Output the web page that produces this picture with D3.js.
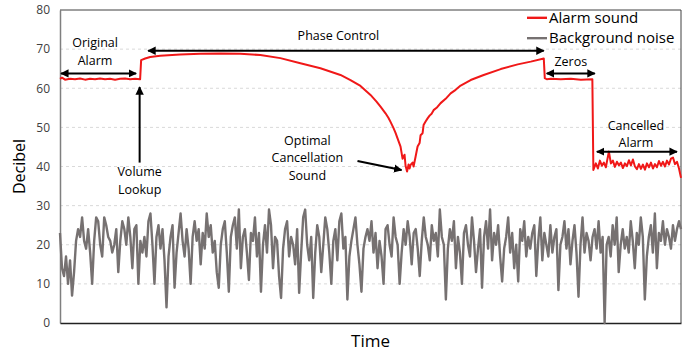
<!DOCTYPE html>
<html>
<head>
<meta charset="utf-8">
<script src="https://cdn.jsdelivr.net/npm/d3@7"></script>
<style>
    body { margin: 0; background: #fff; }
    svg { display: block; font-family: "Open Sans", "Noto Sans", sans-serif; }
</style>
</head>
<body>
<div id="app"></div>
<script>
// ----- Data -----

// alarm sound: time (samples) and level (dB)
const alarmTime = [
    0, 2, 5, 10, 15, 20, 25, 30, 35, 40, 45, 50, 55, 60, 65, 70, 75, 80,
    81, 85, 90, 100, 120, 140, 160, 180, 200, 220, 240, 260, 280, 290, 300, 310,
    316, 320, 325, 328, 330, 333, 335, 338, 340, 342, 344, 345, 346.5, 348, 349, 350,
    352, 353, 355, 357, 359, 360, 362, 363, 365, 367, 369, 371, 373, 376, 380, 385,
    390, 395, 400, 410, 423, 440, 457, 470, 483,
    484, 486, 490, 500, 510, 520, 531.5,
    532.5, 535, 537, 539, 541, 543, 545, 546, 548, 550, 552, 554, 556, 558, 560, 562,
    564, 566, 568, 570, 572, 574, 576, 578, 580, 582, 584, 586, 588, 590, 592, 594,
    596, 598, 600, 602, 604, 606, 608, 610, 612, 614, 616, 618, 620
];
const alarmDb = [
    62.4, 62.7, 62.2, 62.4, 62.3, 62.5, 62.2, 62.4, 62.3, 62.5, 62.3, 62.4, 62.2, 62.4, 62.5, 62.3, 62.4, 62.3,
    67.2, 67.6, 68.0, 68.3, 68.6, 68.8, 68.9, 68.8, 68.5, 67.7, 66.4, 65.1, 63.4, 62.1, 60.6, 58.3,
    56.6, 55.3, 53.6, 52.4, 51.4, 49.8, 48.6, 46.5, 45.1, 42.0, 43.0, 40.2, 38.7, 40.5, 39.5, 40.4,
    41.0, 40.0, 42.5, 45.1, 46.0, 48.0, 48.5, 50.6, 51.5, 52.3, 53.0, 53.5, 54.4, 55.0, 56.2, 57.3,
    58.7, 59.6, 60.7, 62.1, 63.4, 64.9, 66.1, 66.8, 67.6,
    62.6, 62.3, 62.4, 62.3, 62.4, 62.2, 62.3,
    39.1, 40.8, 39.5, 41.5, 40.2, 41.0, 39.8, 41.2, 43.8, 40.8, 41.5, 39.9, 41.2, 40.3, 41.0, 39.6,
    40.8, 40.1, 41.6, 40.3, 41.8, 40.0, 39.3, 40.6, 39.4, 40.5, 39.2, 40.8, 39.8, 41.0, 39.5, 40.6,
    39.8, 41.4, 40.2, 41.2, 40.0, 41.5, 40.5, 42.0, 42.3, 40.6, 41.2, 39.5, 37.1
];

// background noise (dB), evenly spaced over the same time span
const noiseDb = [
    23, 14, 12, 17, 10, 16, 7, 13, 21, 24, 22, 27, 21, 19, 24, 18, 10, 21, 27, 26, 20, 17, 27, 25, 22, 21, 18, 20, 24, 13, 21,
    26, 24, 20, 27, 22, 14, 24, 25, 10, 21, 18, 22, 17, 26, 28, 20, 10, 22, 25, 19, 24, 16, 4, 17, 22, 25, 9, 18, 23, 28, 21,
    17, 24, 19, 10, 22, 26, 21, 24, 15, 23, 19, 28, 22, 25, 18, 21, 13, 9, 20, 24, 26, 18, 8, 22, 25, 27, 19, 29, 14, 22, 24,
    18, 11, 23, 21, 27, 17, 23, 8, 20, 25, 18, 29, 25, 14, 22, 21, 12, 6.4, 19, 24, 26, 17, 22, 20, 15, 24, 7.7, 18, 27, 29, 20,
    16, 22, 6.4, 18, 25, 22, 13, 20, 27, 24, 18, 10, 21, 24, 16, 26, 28, 19, 22, 6, 17, 21, 24, 27, 20, 15, 8, 19, 22, 24, 21,
    26, 18, 23, 14, 21, 17, 10, 24, 25, 20, 17, 27, 22, 20, 10, 18, 24, 20, 26, 22, 15, 23, 24, 19, 12, 21, 27, 22, 20, 16, 25,
    21, 23, 17, 29, 22, 20, 6, 19, 24, 21, 26, 14, 22, 18, 10, 23, 25, 20, 17, 27, 21, 13, 19, 24, 9, 22, 26, 19, 29, 16, 23,
    20, 25, 17, 10.6, 19, 22, 27, 18, 23, 14, 20, 10.6, 24, 21, 26, 17, 22, 19, 23, 25, 12, 21, 27, 16, 23, 20, 17, 25, 18, 22, 24,
    8.4, 20, 22, 26, 19, 24, 15, 21, 25, 18, 6.7, 20, 27, 18, 23, 21, 16, 22, 24, 19, 26, 18, 22, 0, 20, 22, 17, 25, 20, 27, 13,
    20, 24, 19, 22, 18, 26, 21, 14, 23, 20, 27, 22, 6, 17, 22, 25, 18, 28, 14, 23, 21, 26, 20, 24, 22, 19, 25, 21, 24, 26, 24
];

const yTicks = [0, 10, 20, 30, 40, 50, 60, 70, 80];
const timeSpan = [0, 620];

// annotations: double arrows [t0, t1, dB] with label centres
const spans = [
    { t0: 0, t1: 77, db: 63.8, label: ["Original", "Alarm"], lt: 35, ldb: [71.6, 67.0] },
    { t0: 87, t1: 484, db: 69.6, label: ["Phase Control"], lt: 278, ldb: [73.4] },
    { t0: 485, t1: 535, db: 63.8, label: ["Zeros"], lt: 510, ldb: [66.7] },
    { t0: 535, t1: 617, db: 43.8, label: ["Cancelled", "Alarm"], lt: 575, ldb: [50.5, 46.0] }
];

// ----- Layout -----

const W = 697, H = 351;
const M = { left: 60, right: 16, top: 10, bottom: 28 };

const svg = d3.select("#app").append("svg")
    .attr("width", W)
    .attr("height", H);

const x = d3.scaleLinear()
    .domain(timeSpan)
    .range([M.left, W - M.right]);

const y = d3.scaleLinear()
    .domain([0, 80])
    .range([H - M.bottom, M.top]);

const xNoise = d3.scaleLinear()
    .domain([0, noiseDb.length - 1])
    .range(timeSpan);

// arrow head
svg.append("defs").append("marker")
    .attr("id", "head")
    .attr("viewBox", "0 0 10 10")
    .attr("refX", 9)
    .attr("refY", 5)
    .attr("markerWidth", 4.2)
    .attr("markerHeight", 4.2)
    .attr("markerUnits", "strokeWidth")
    .attr("orient", "auto-start-reverse")
    .append("path")
        .attr("d", "M0,0 L10,5 L0,10 Z")
        .attr("fill", "#000");

// grid
svg.append("g")
    .selectAll("line")
    .data(yTicks.slice(1, -1))
    .join("line")
        .attr("x1", x(timeSpan[0]))
        .attr("x2", x(timeSpan[1]))
        .attr("y1", d => y(d))
        .attr("y2", d => y(d))
        .attr("stroke", "#d9d9d9")
        .attr("stroke-width", 1)
        .attr("stroke-dasharray", "3,3");

// y axis
const axisLeft = d3.axisLeft(y)
    .tickValues(yTicks)
    .tickSize(0)
    .tickPadding(10);

const gy = svg.append("g")
    .attr("transform", `translate(${x(0)}, 0)`)
    .call(axisLeft);
gy.select(".domain").attr("stroke", "#7f7f7f").attr("stroke-width", 1.5);
gy.selectAll("text")
    .attr("font-family", "Open Sans, Noto Sans, sans-serif")
    .attr("font-size", 12)
    .attr("fill", "#404040");

// frame (top, right)
svg.append("path")
    .attr("d", `M${x(0)},${y(80)} H${x(620)} V${y(0)}`)
    .attr("fill", "none")
    .attr("stroke", "#404040")
    .attr("stroke-width", 1);

// x axis (no ticks)
const axisBottom = d3.axisBottom(x).tickValues([]).tickSizeOuter(0);
const gx = svg.append("g")
    .attr("transform", `translate(0, ${y(0)})`)
    .call(axisBottom);
gx.select(".domain").attr("stroke", "#222").attr("stroke-width", 1.5);

// axis titles
svg.append("text")
    .attr("x", (x(0) + x(620)) / 2)
    .attr("y", H - 4)
    .attr("text-anchor", "middle")
    .attr("font-size", 17)
    .attr("fill", "#000")
    .text("Time");

svg.append("text")
    .attr("transform", `translate(25, ${(y(0) + y(80)) / 2}) rotate(-90)`)
    .attr("text-anchor", "middle")
    .attr("font-size", 16)
    .attr("fill", "#000")
    .text("Decibel");

// ----- Series -----

const noiseLine = d3.line()
    .x((d, i) => x(xNoise(i)))
    .y(d => y(d));

svg.append("path")
    .datum(noiseDb)
    .attr("d", noiseLine)
    .attr("fill", "none")
    .attr("stroke", "#767171")
    .attr("stroke-width", 2.4)
    .attr("stroke-linejoin", "round");

const alarmLine = d3.line()
    .x((d, i) => x(alarmTime[i]))
    .y(d => y(d));

svg.append("path")
    .datum(alarmDb)
    .attr("d", alarmLine)
    .attr("fill", "none")
    .attr("stroke", "#f01818")
    .attr("stroke-width", 2)
    .attr("stroke-linejoin", "round");

// ----- Annotations -----

const ann = svg.append("g");

function label(t, db, txt) {
    ann.append("text")
        .attr("x", x(t))
        .attr("y", y(db))
        .attr("dy", "0.35em")
        .attr("text-anchor", "middle")
        .attr("font-size", 12.5)
        .attr("fill", "#000")
        .text(txt);
}

spans.forEach(s => {
    ann.append("line")
        .attr("x1", x(s.t0) + 1)
        .attr("x2", x(s.t1) - 1)
        .attr("y1", y(s.db))
        .attr("y2", y(s.db))
        .attr("stroke", "#000")
        .attr("stroke-width", 2)
        .attr("marker-start", "url(#head)")
        .attr("marker-end", "url(#head)");
    s.label.forEach((l, i) => label(s.lt, s.ldb[i], l));
});

// volume lookup arrow
ann.append("line")
    .attr("x1", x(79.5))
    .attr("x2", x(79.5))
    .attr("y1", y(41))
    .attr("y2", y(60.3))
    .attr("stroke", "#000")
    .attr("stroke-width", 2)
    .attr("marker-end", "url(#head)");
label(79.5, 38.6, "Volume");
label(79.5, 34.0, "Lookup");

// optimal cancellation arrow
ann.append("line")
    .attr("x1", x(297))
    .attr("x2", x(341))
    .attr("y1", y(41.4))
    .attr("y2", y(39.1))
    .attr("stroke", "#000")
    .attr("stroke-width", 2)
    .attr("marker-end", "url(#head)");
label(247, 46.65, "Optimal");
label(247, 42.17, "Cancellation");
label(247, 37.7, "Sound");

// ----- Legend -----

const legend = svg.append("g");
const legendItems = [
    { name: "Alarm sound", color: "#f01818", db: 78 },
    { name: "Background noise", color: "#767171", db: 72.8 }
];
legendItems.forEach(d => {
    legend.append("line")
        .attr("x1", 527)
        .attr("x2", 547)
        .attr("y1", y(d.db))
        .attr("y2", y(d.db))
        .attr("stroke", d.color)
        .attr("stroke-width", 2.4);
    legend.append("text")
        .attr("x", 549)
        .attr("y", y(d.db))
        .attr("dy", "0.35em")
        .attr("font-size", 15)
        .attr("fill", "#000")
        .text(d.name);
});
</script>
</body>
</html>
